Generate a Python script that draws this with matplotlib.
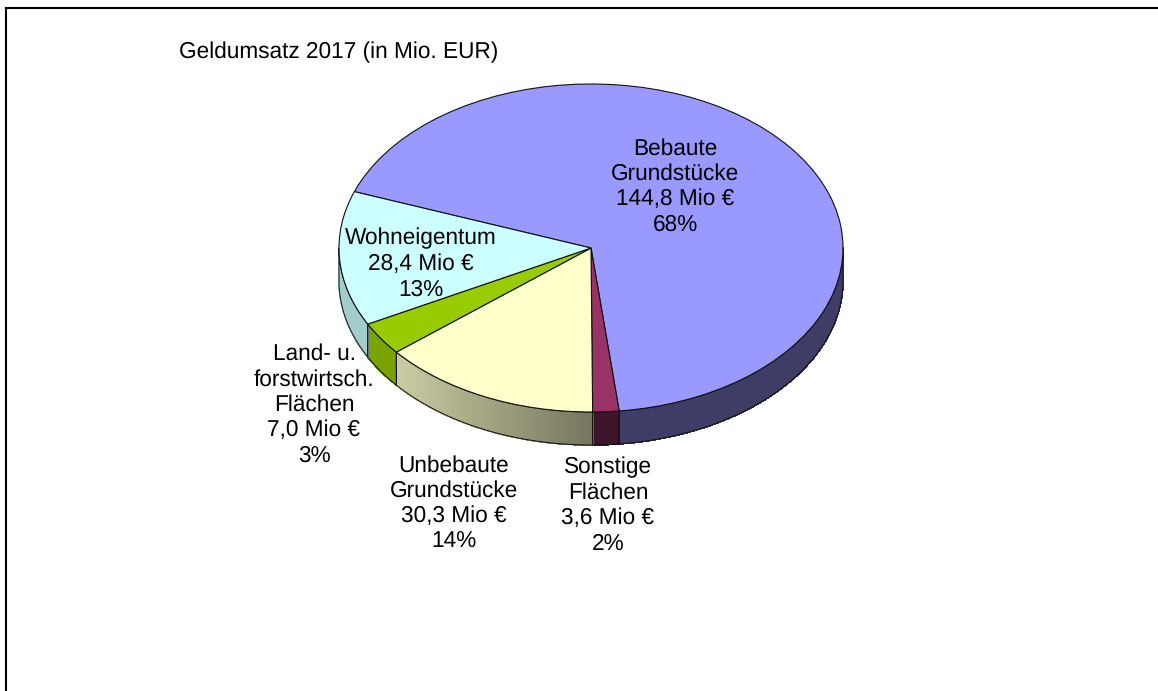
#!/usr/bin/env python3

import numpy as np
import matplotlib
matplotlib.use('Agg')
import matplotlib.pyplot as plt
from matplotlib.lines import Line2D

plt.rcParams['font.family'] = ['Liberation Sans', 'DejaVu Sans']
plt.rcParams['text.hinting'] = 'none'

# data
title = "Geldumsatz 2017 (in Mio. EUR)"
names = ["Bebaute\nGrundstücke", "Sonstige\nFlächen", "Unbebaute\nGrundstücke",
         "Land- u.\nforstwirtsch.\nFlächen", "Wohneigentum"]
values = [144.8, 3.6, 30.3, 7.0, 28.4]
value_labels = ["144,8 Mio €", "3,6 Mio €", "30,3 Mio €", "7,0 Mio €", "28,4 Mio €"]
pct_labels = ["68%", "2%", "14%", "3%", "13%"]
colors = ['#9999ff', '#993366', '#ffffcc', '#99cc00', '#ccffff']

# figure size in px
W, H = 1158, 691

# ellipse of the pie top and height of the side wall (px)
cx, cy, rx, ry = 591, 248, 252, 164
depth = 33 / ry

# how dark the side gets at the left / right end of each wedge (wedge order as above)
shades = [(0.40, 0.40), (0.40, 0.40), (0.80, 0.46), (0.80, 0.80), (0.80, 0.80)]

# label centres in px
label_pos = [(675, 186.5), (608, 505.5), (454, 503.5), (314, 405), (421, 264)]

fig = plt.figure(figsize=(W / 100, H / 100), dpi=100)

# axes sized so that the unit pie turns into the ellipse
ax = fig.add_axes([(cx - 1.25 * rx) / W, 1 - (cy + 1.25 * ry) / H, 2.5 * rx / W, 2.5 * ry / H])
wedges, _ = ax.pie(values, colors=colors, startangle=159.9, counterclock=False,
                   wedgeprops={'edgecolor': '#111111', 'linewidth': 0.8, 'zorder': 3})
ax.set_aspect('auto')
ax.set_xlim(-1.25, 1.25)
ax.set_ylim(-1.25, 1.25)


# side wall of one wedge, only the part facing the viewer
def draw_wall(wedge, col, shade):
    t1, t2 = wedge.theta1, wedge.theta2
    # bring the wedge to the -180..180 range
    if t1 < -180 and t2 <= -180:
        t1, t2 = t1 + 360, t2 + 360
    a = max(t1, -180)
    b = min(t2, 0)
    if a >= b:
        return
    base = np.array(matplotlib.colors.to_rgb(col))
    steps = np.linspace(a, b, 120)
    x0, x1 = np.cos(np.radians(a)), np.cos(np.radians(b))
    for i in range(len(steps) - 1):
        th = np.radians([steps[i], steps[i + 1]])
        # shade runs along x, like a horizontal gradient
        s = shade[0] + (shade[1] - shade[0]) * (np.cos(th[0]) - x0) / (x1 - x0)
        xs = [np.cos(th[0]), np.cos(th[1]), np.cos(th[1]), np.cos(th[0])]
        ys = [np.sin(th[0]), np.sin(th[1]), np.sin(th[1]) - depth, np.sin(th[0]) - depth]
        ax.fill(xs, ys, color=base * s, linewidth=0.6, antialiased=False, zorder=1)
    # outline
    th = np.radians(steps)
    xo = np.r_[np.cos(th), np.cos(th[::-1]), np.cos(th[0])]
    yo = np.r_[np.sin(th), np.sin(th[::-1]) - depth, np.sin(th[0])]
    ax.plot(xo, yo, color='#111111', lw=0.7, zorder=2)


for w, c, s in zip(wedges, colors, shades):
    draw_wall(w, c, s)

# labels
for (px, py), n, v, p in zip(label_pos, names, value_labels, pct_labels):
    fig.text(px / W, 1 - py / H, n + "\n" + v + "\n" + p, fontsize=16.3, ha='center', va='center',
             linespacing=1.24, color='black', zorder=5)

fig.text(179 / W, 1 - 52 / H, title, fontsize=16.3, ha='left', va='center', color='black')

# outer frame, only left and top reach into the picture
frame_x, frame_y = 6 / W, 1 - 8 / H
fig.add_artist(Line2D([frame_x, frame_x], [0, frame_y], color='black', lw=1.5))
fig.add_artist(Line2D([frame_x, 1], [frame_y, frame_y], color='black', lw=1.5))

fig.savefig('out.png', dpi=100)
